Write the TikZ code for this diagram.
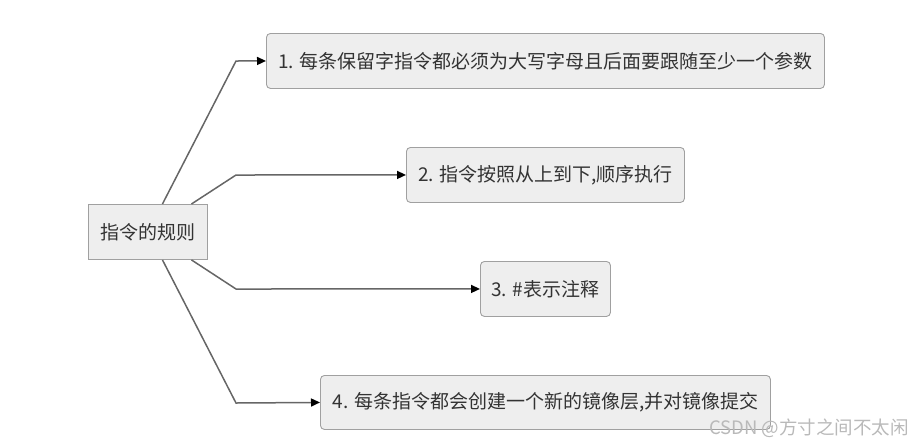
\documentclass[tikz,border=0pt]{standalone}
\usepackage{fontspec}
\setmainfont{Noto Sans CJK SC}
\usetikzlibrary{arrows.meta}
\definecolor{boxfill}{HTML}{EEEEEE}
\definecolor{boxline}{HTML}{A0A0A0}
\definecolor{txt}{HTML}{333333}
\definecolor{conn}{HTML}{666666}
\tikzset{
  rule/.style={draw=boxline, fill=boxfill, rounded corners=4pt, line width=0.9pt, text=txt, font=\fontsize{19}{21}\selectfont, inner sep=0pt, anchor=north west},
  rootbox/.style={draw=boxline, fill=boxfill, line width=0.9pt, text=txt, font=\fontsize{19}{21}\selectfont, inner sep=0pt, anchor=north west},
  link/.style={draw=conn, line width=1.5pt, -{Triangle[length=9pt,width=8pt,black]}},
}
\begin{document}
\begin{tikzpicture}[x=1pt,y=-1pt]
\useasboundingbox (0,0) rectangle (923,445);
\node[rootbox, minimum width=119pt, minimum height=55pt] (root) at (88,204) {指令的规则};
\node[rule, minimum width=558pt, minimum height=55pt] (r1) at (266,33) {1. 每条保留字指令都必须为大写字母且后面要跟随至少一个参数};
\node[rule, minimum width=278pt, minimum height=55pt] (r2) at (406,147) {2. 指令按照从上到下,顺序执行};
\node[rule, minimum width=130pt, minimum height=55pt] (r3) at (480,261) {3. \#表示注释};
\node[rule, minimum width=450pt, minimum height=54pt] (r4) at (320,375) {4. 每条指令都会创建一个新的镜像层,并对镜像提交};
\coordinate (k1) at (236,61);
\coordinate (k2) at (236,175);
\coordinate (k3) at (236,289);
\coordinate (k4) at (236,403);
\draw[link] ([xshift=14.5pt]root.north) -- (k1) -- (r1.west);
\draw[link] ([xshift=43.5pt]root.north) -- (k2) -- (r2.west);
\draw[link] ([xshift=43.5pt]root.south) -- (k3) -- (r3.west);
\draw[link] ([xshift=14.5pt]root.south) -- (k4) -- (r4.west);
\node[anchor=east, text=gray!55, font=\fontsize{18.5}{20}\selectfont, inner sep=0pt] (wm) at (909,428) {CSDN @方寸之间不太闲};
\end{tikzpicture}
\end{document}
